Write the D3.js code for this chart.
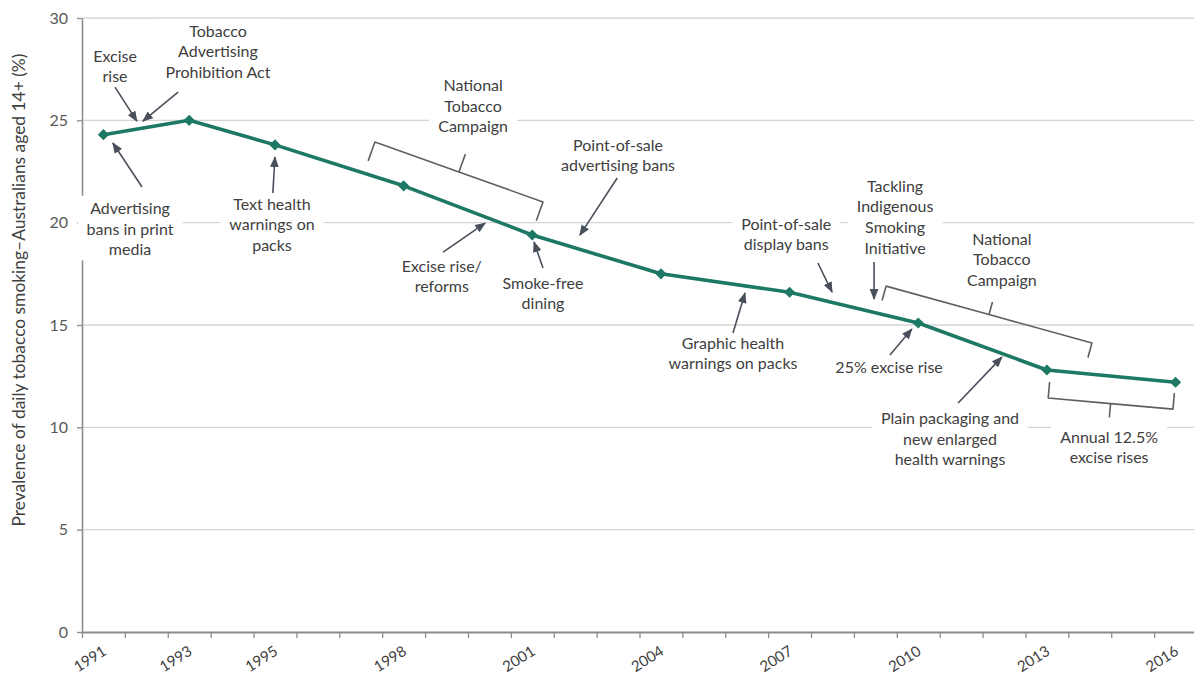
<!DOCTYPE html>
<html>
<head>
<meta charset="utf-8">
<script src="https://cdn.jsdelivr.net/npm/d3@7"></script>
<style>
  html, body { margin: 0; padding: 0; background: #fff; }
  svg { display: block; font-family: Lato, "Open Sans", sans-serif; }
</style>
</head>
<body>
<svg id="chart" width="1194" height="679"></svg>
<script>
// Survey years and daily smoking prevalence, Australians aged 14+ (%)
const years = [1991, 1993, 1995, 1998, 2001, 2004, 2007, 2010, 2013, 2016];
const prevalence = [24.3, 25.0, 23.8, 21.8, 19.4, 17.5, 16.6, 15.1, 12.8, 12.2];
const yTicks = [0, 5, 10, 15, 20, 25, 30];
const yearLabels = ["1991", "1993", "1995", "1998", "2001", "2004", "2007", "2010", "2013", "2016"];
const yTitle = "Prevalence of daily tobacco smoking\u2013Australians aged 14+ (%)";

// Policy notes, placed in chart units: [year, percentage] of the first line's centre
const notes = [
  { lines: ["Excise", "rise"], at: [1991.27, 28.14] },
  { lines: ["Tobacco", "Advertising", "Prohibition Act"], at: [1993.67, 29.36] },
  { lines: ["Advertising", "bans in print", "media"], at: [1991.62, 20.71] },
  { lines: ["Text health", "warnings on", "packs"], at: [1994.93, 20.91] },
  { lines: ["National", "Tobacco", "Campaign"], at: [1999.62, 26.72] },
  { lines: ["Point-of-sale", "advertising bans"], at: [2003.0, 23.79] },
  { lines: ["Excise rise/", "reforms"], at: [1998.89, 17.88] },
  { lines: ["Smoke-free", "dining"], at: [2001.25, 17.05] },
  { lines: ["Point-of-sale", "display bans"], at: [2006.92, 19.93] },
  { lines: ["Tackling", "Indigenous", "Smoking", "Initiative"], at: [2009.46, 21.79] },
  { lines: ["National", "Tobacco", "Campaign"], at: [2011.95, 19.2] },
  { lines: ["Graphic health", "warnings on packs"], at: [2005.68, 14.12] },
  { lines: ["25% excise rise"], at: [2009.32, 12.95] },
  { lines: ["Plain packaging and", "new enlarged", "health warnings"], at: [2010.74, 10.45] },
  { lines: ["Annual 12.5%", "excise rises"], at: [2014.45, 9.53] }
];

// Pointers from notes to the trend line
const pointers = [
  { from: [1991.27, 26.62], to: [1991.78, 24.96] },
  { from: [1992.74, 26.38], to: [1991.92, 24.96] },
  { from: [1991.90, 21.74], to: [1991.22, 23.89] },
  { from: [1994.95, 21.45], to: [1995.0, 23.2] },
  { from: [2002.98, 22.18], to: [2002.11, 19.39] },
  { from: [1998.92, 18.56], to: [1999.90, 19.98] },
  { from: [2001.25, 17.78], to: [2001.04, 19.05] },
  { from: [2007.66, 18.03], to: [2007.99, 16.61] },
  { from: [2008.97, 18.08], to: [2008.97, 16.27] },
  { from: [2005.68, 14.61], to: [2005.96, 16.56] },
  { from: [2009.34, 13.53], to: [2009.85, 14.8] },
  { from: [2010.93, 11.19], to: [2011.95, 13.43] }
];

// Braces spanning campaign periods; side 1 = tip above the span, -1 = below
const braces = [
  { from: [1997.33, 23.94], to: [2001.25, 21.01], side: 1, leg: 20, tip: 19 },
  { from: [2009.25, 16.9], to: [2014.05, 14.12], side: 1, leg: 15, tip: 13 },
  { from: [2013.03, 11.43], to: [2015.94, 10.89], side: -1, leg: 16, tip: 14 }
];

const W = 1194, H = 679;
const svg = d3.select("#chart");

const x = d3.scaleLinear().domain([1990.5, 2016.5]).range([82, 1197]);
const y = d3.scaleLinear().domain([0, 30]).range([632, 18]);

const lineColor = "#1d7864";
const textColor = "#404040";

// Horizontal gridlines
svg.append("g").selectAll("line")
  .data(yTicks.filter(t => t > 0))
  .join("line")
  .attr("x1", x(1990.5)).attr("x2", W)
  .attr("y1", d => y(d)).attr("y2", d => y(d))
  .attr("stroke", "#d4d4d4").attr("stroke-width", 1.3);

// Y axis
const yAxis = svg.append("g")
  .attr("transform", `translate(${x(1990.5)},0)`)
  .call(d3.axisLeft(y).tickValues(yTicks).tickSize(5).tickSizeOuter(0).tickPadding(9));
yAxis.select(".domain").attr("stroke", "#8c8c8c").attr("stroke-width", 1.6);
yAxis.selectAll(".tick line").attr("stroke", "#8c8c8c").attr("stroke-width", 1.3);
yAxis.selectAll(".tick text")
  .attr("font-family", "Lato, sans-serif").attr("font-size", 16).attr("fill", "#595959");

// X axis: one tick at every year boundary
const xAxis = svg.append("g")
  .attr("transform", `translate(0,${y(0)})`)
  .call(d3.axisBottom(x).tickValues(d3.range(1990.5, 2017, 1)).tickSize(6).tickSizeOuter(0).tickFormat(""));
xAxis.select(".domain").attr("stroke", "#8c8c8c").attr("stroke-width", 1.8);
xAxis.selectAll(".tick line").attr("stroke", "#8c8c8c").attr("stroke-width", 1.3);

// Rotated year labels
svg.append("g").selectAll("text")
  .data(years)
  .join("text")
  .attr("transform", d => `translate(${x(d) + 4},654) rotate(-32)`)
  .attr("text-anchor", "end")
  .attr("font-size", 15)
  .attr("fill", "#404040")
  .text((d, i) => yearLabels[i]);

// Y axis title
svg.append("text")
  .attr("transform", "translate(25,290) rotate(-90)")
  .attr("text-anchor", "middle")
  .attr("font-size", 17.4)
  .attr("fill", textColor)
  .text(yTitle);

// Arrowhead
svg.append("defs").append("marker")
  .attr("id", "arrowhead")
  .attr("markerUnits", "userSpaceOnUse")
  .attr("viewBox", "0 0 10 8")
  .attr("refX", 9).attr("refY", 4)
  .attr("markerWidth", 11).attr("markerHeight", 9)
  .attr("orient", "auto")
  .append("path")
  .attr("d", "M0,0 L10,4 L0,8 Z")
  .attr("fill", "#4a505b");

// Notes with white backing boxes
const lineHeight = 20.8;
const noteLayer = svg.append("g");
notes.forEach(n => {
  const g = noteLayer.append("g")
    .attr("transform", `translate(${x(n.at[0])},${y(n.at[1])})`);
  const box = g.append("rect").attr("fill", "#fff");
  const t = g.append("text")
    .attr("text-anchor", "middle")
    .attr("font-size", 16)
    .attr("fill", textColor);
  n.lines.forEach((l, i) => {
    t.append("tspan").attr("x", 0).attr("y", i * lineHeight + 5.6).text(l);
  });
  const b = t.node().getBBox();
  box.attr("x", b.x - 9).attr("y", b.y - 2)
    .attr("width", b.width + 18).attr("height", b.height + 4);
});

// Pointer arrows
svg.append("g").selectAll("line")
  .data(pointers)
  .join("line")
  .attr("x1", d => x(d.from[0])).attr("y1", d => y(d.from[1]))
  .attr("x2", d => x(d.to[0])).attr("y2", d => y(d.to[1]))
  .attr("stroke", "#4a505b").attr("stroke-width", 1.6)
  .attr("marker-end", "url(#arrowhead)");

// Braces
svg.append("g").selectAll("path")
  .data(braces)
  .join("path")
  .attr("d", d => {
    const ax = x(d.from[0]), ay = y(d.from[1]);
    const bx = x(d.to[0]), by = y(d.to[1]);
    const len = Math.hypot(bx - ax, by - ay);
    const ux = (bx - ax) / len, uy = (by - ay) / len;
    // normal pointing upward on screen
    const nx = uy * d.side, ny = -ux * d.side;
    const mx = (ax + bx) / 2, my = (ay + by) / 2;
    return `M${ax - nx * d.leg},${ay - ny * d.leg}` +
      `L${ax},${ay}L${mx},${my}L${mx + nx * d.tip},${my + ny * d.tip}` +
      `M${mx},${my}L${bx},${by}L${bx - nx * d.leg},${by - ny * d.leg}`;
  })
  .attr("fill", "none")
  .attr("stroke", "#5f5f5f")
  .attr("stroke-width", 1.6)
  .attr("stroke-linejoin", "round");

// Trend line and markers
const series = years.map((yr, i) => ({ year: yr, value: prevalence[i] }));
svg.append("path")
  .datum(series)
  .attr("d", d3.line().x(d => x(d.year)).y(d => y(d.value)))
  .attr("fill", "none")
  .attr("stroke", lineColor)
  .attr("stroke-width", 3.6)
  .attr("stroke-linejoin", "round");

svg.append("g").selectAll("path")
  .data(series)
  .join("path")
  .attr("transform", d => `translate(${x(d.year)},${y(d.value)}) rotate(45)`)
  .attr("d", d3.symbol(d3.symbolSquare, 62))
  .attr("fill", lineColor);
</script>
</body>
</html>
